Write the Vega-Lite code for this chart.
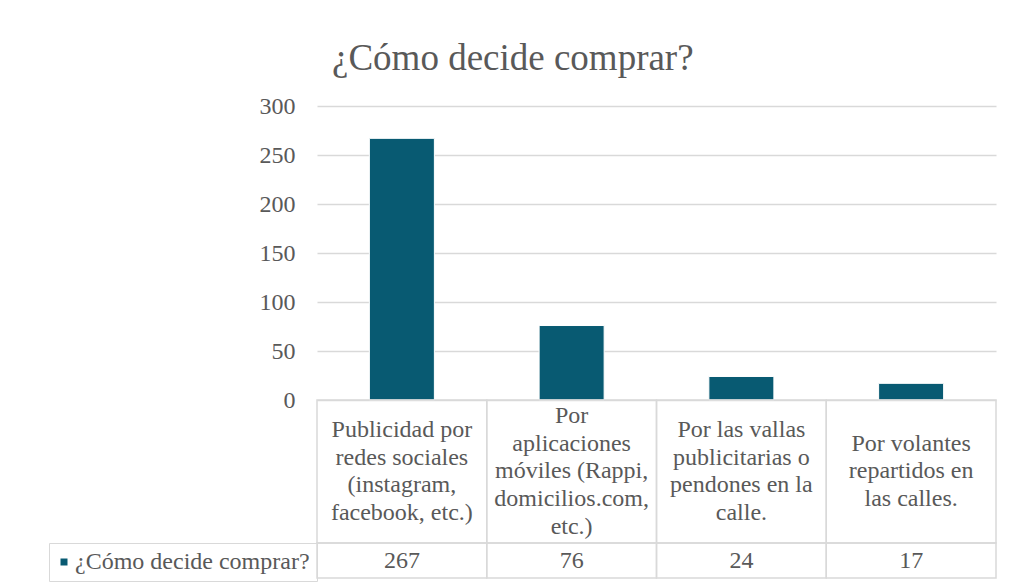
{
  "$schema": "https://vega.github.io/schema/vega-lite/v6.json",
  "background": "white",
  "padding": {"left": 48, "top": 40, "right": 16, "bottom": 10},
  "bounds": "flush",
  "title": {
    "text": "¿Cómo decide comprar?",
    "font": "Liberation Serif",
    "fontSize": 37,
    "fontWeight": "normal",
    "color": "#595959",
    "anchor": "start",
    "frame": "group",
    "dx": 15,
    "offset": 16
  },
  "datasets": {
    "d": [
      {"categoria": "Publicidad por\nredes sociales\n(instagram,\nfacebook, etc.)", "valor": 267, "serie": "¿Cómo decide comprar?"},
      {"categoria": "Por\naplicaciones\nmóviles (Rappi,\ndomicilios.com,\netc.)", "valor": 76, "serie": "¿Cómo decide comprar?"},
      {"categoria": "Por las vallas\npublicitarias o\npendones en la\ncalle.", "valor": 24, "serie": "¿Cómo decide comprar?"},
      {"categoria": "Por volantes\nrepartidos en\nlas calles.", "valor": 17, "serie": "¿Cómo decide comprar?"}
    ]
  },
  "spacing": 0,
  "resolve": {
    "scale": {"x": "independent", "color": "independent"},
    "legend": {"color": "independent"}
  },
  "config": {
    "view": {"stroke": null},
    "font": "Liberation Serif"
  },
  "vconcat": [
    {
      "width": 679,
      "height": 294,
      "data": {"name": "d"},
      "mark": {"type": "bar", "stroke": "white", "strokeWidth": 1},
      "encoding": {
        "x": {
          "field": "categoria",
          "type": "nominal",
          "sort": null,
          "scale": {"paddingInner": 0.617, "paddingOuter": 0.3085},
          "axis": null
        },
        "y": {
          "field": "valor",
          "type": "quantitative",
          "scale": {"domain": [0, 300], "nice": false},
          "axis": {
            "values": [0, 50, 100, 150, 200, 250, 300],
            "grid": true,
            "gridColor": "#d9d9d9",
            "gridWidth": 1.5,
            "domain": false,
            "ticks": false,
            "labelPadding": 22,
            "labelFont": "Liberation Serif",
            "labelFontSize": 24,
            "labelColor": "#595959",
            "title": null
          }
        },
        "color": {
          "field": "serie",
          "type": "nominal",
          "scale": {"range": ["#085A72"]},
          "legend": {
            "orient": "none",
            "legendX": -268,
            "legendY": 437,
            "title": null,
            "strokeColor": "#d9d9d9",
            "padding": 7,
            "symbolType": "square",
            "symbolSize": 49,
            "symbolOffset": -4,
            "symbolStrokeWidth": 0,
            "labelOffset": -1,
            "labelFont": "Liberation Serif",
            "labelFontSize": 24,
            "labelColor": "#595959",
            "labelLimit": 400
          }
        }
      }
    },
    {
      "width": 679,
      "height": 143,
      "data": {"name": "d"},
      "transform": [
        {"calculate": "length(split(datum.categoria, '\\n'))", "as": "lineas"}
      ],
      "encoding": {
        "x": {
          "field": "categoria",
          "type": "nominal",
          "sort": null,
          "scale": {"paddingInner": 0, "paddingOuter": 0},
          "axis": null
        }
      },
      "layer": [
        {"mark": {"type": "rect", "filled": false, "color": "#d9d9d9", "strokeWidth": 1.5}},
        {
          "mark": {"type": "text", "lineBreak": "\n", "font": "Liberation Serif", "fontSize": 24, "color": "#595959", "lineHeight": 27.7, "baseline": "middle"},
          "encoding": {
            "text": {"field": "categoria"},
            "y": {"field": "lineas", "type": "quantitative", "scale": {"domain": [1, 5], "range": [71.5, 16.1], "zero": false, "nice": false}, "axis": null}
          }
        }
      ]
    },
    {
      "width": 679,
      "height": 35,
      "data": {"name": "d"},
      "encoding": {
        "x": {
          "field": "categoria",
          "type": "nominal",
          "sort": null,
          "scale": {"paddingInner": 0, "paddingOuter": 0},
          "axis": null
        }
      },
      "layer": [
        {"mark": {"type": "rect", "filled": false, "color": "#d9d9d9", "strokeWidth": 1.5}},
        {
          "mark": {"type": "text", "font": "Liberation Serif", "fontSize": 24, "color": "#595959", "baseline": "middle"},
          "encoding": {"text": {"field": "valor", "type": "quantitative"}}
        }
      ]
    }
  ]
}
